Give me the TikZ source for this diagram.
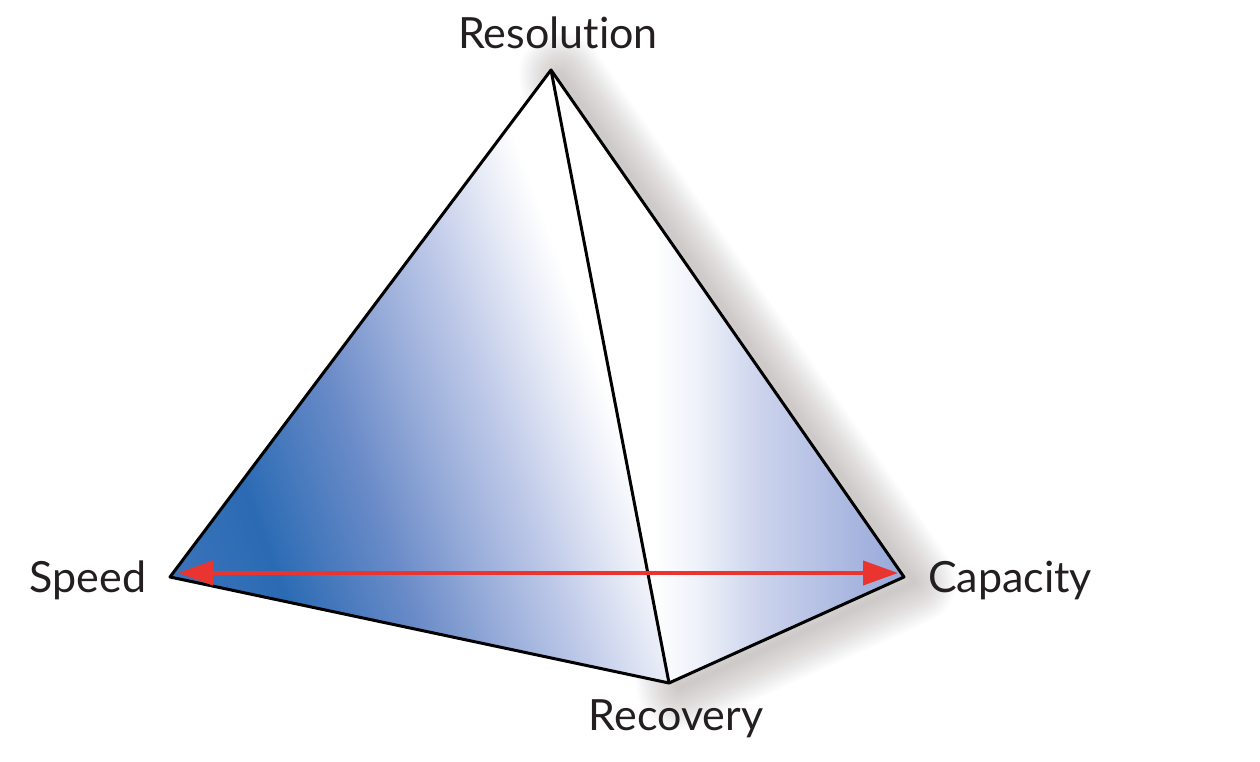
\documentclass[tikz,border=0pt]{standalone}
\usepackage{fontspec}
\setmainfont{Lato}[Ligatures=NoCommon]
\usetikzlibrary{arrows.meta}

\definecolor{lfA}{HTML}{3C74BA}
\definecolor{lfB}{HTML}{2B6BB4}
\definecolor{lfC}{HTML}{6A8BC8}
\definecolor{lfD}{HTML}{9AAEDA}
\definecolor{lfE}{HTML}{BDC8E8}
\definecolor{lfF}{HTML}{E6EAF6}
\definecolor{rfA}{HTML}{EEF1F9}
\definecolor{rfB}{HTML}{CCD3EC}
\definecolor{rfC}{HTML}{A9B7E0}
\definecolor{rfD}{HTML}{97A9D9}
\definecolor{arrowred}{HTML}{E9342F}
\definecolor{shadowgrey}{HTML}{6B6060}
\definecolor{textgrey}{HTML}{231F20}

\pgfdeclarehorizontalshading{leftface}{100bp}{color(0bp)=(lfA); color(1bp)=(lfA); color(19.5bp)=(lfB); color(40bp)=(lfC); color(54bp)=(lfD); color(65bp)=(lfE); color(77.5bp)=(lfF); color(86bp)=(white); color(100bp)=(white)}
\pgfdeclarehorizontalshading{rightface}{100bp}{color(0bp)=(white); color(39.5bp)=(white); color(46bp)=(rfA); color(54.5bp)=(rfB); color(67.5bp)=(rfC); color(75bp)=(rfD); color(100bp)=(rfD)}

\tikzset{
  edge/.style={draw=black, line width=3pt, line join=round},
  vlabel/.style={font=\fontsize{43}{50}\selectfont, text=textgrey, anchor=base, inner sep=0pt},
  tradeoff/.style={draw=arrowred, line width=4pt,
    {Triangle[length=35pt,width=24pt]}-{Triangle[length=35pt,width=24pt]}}
}

\begin{document}
\begin{tikzpicture}[x=1pt,y=1pt]
\fill[white] (0,0) rectangle (1260,761);
\useasboundingbox (0,0) rectangle (1260,761);

\coordinate (res) at (551,691);
\coordinate (spd) at (170,184);
\coordinate (cap) at (904,184);
\coordinate (rec) at (669,78);

\foreach \w in {84,80,...,4}
  \draw[shadowgrey, opacity=0.016, line width=\w pt, line join=round]
    ([shift={(10,-5)}]res) -- ([shift={(10,-5)}]cap) -- ([shift={(10,-5)}]rec) -- cycle;

\begin{scope}
\clip (res) -- (spd) -- (rec) -- cycle;
\node[inner sep=0pt, rotate=20, xscale=5.6, yscale=6.5] (lshade) at (415.5,306) {\pgfuseshading{leftface}};
\end{scope}
\shade[shading=rightface] (res) -- (rec) -- (cap) -- cycle;

\path[edge] (res) -- (spd) -- (rec) -- (cap) -- cycle;
\path[edge] (res) -- (rec);

\path[tradeoff, shorten <=8pt, shorten >=6pt] ([yshift=4]spd) -- ([yshift=4]cap);

\node[vlabel] (resolution) at (558,712) {Resolution};
\node[vlabel] (speed) at (88,169) {Speed};
\node[vlabel] (capacity) at (1010,169) {Capacity};
\node[vlabel] (recovery) at (676,31) {Recovery};
\end{tikzpicture}
\end{document}
